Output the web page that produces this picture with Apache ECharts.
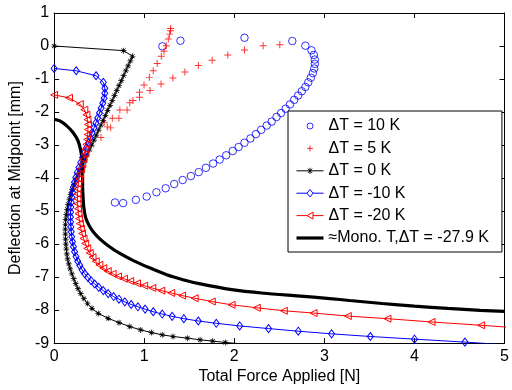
<!DOCTYPE html>
<html>
<head>
<meta charset="utf-8">
<script src="https://cdn.jsdelivr.net/npm/echarts@6/dist/echarts.min.js"></script>
<style>
  html, body { margin: 0; padding: 0; background: #fff; }
  #chart { width: 512px; height: 390px; }
</style>
</head>
<body>
<div id="chart"></div>
<script>
// Axis ranges and ticks
const xTicks = [0, 1, 2, 3, 4, 5];
const yTicks = [-9, -8, -7, -6, -5, -4, -3, -2, -1, 0, 1];
const xTitle = 'Total Force Applied [N]';
const yTitle = 'Deflection at Midpoint [mm]';

const seriesNames = ['ΔT = 10 K', 'ΔT = 5 K', 'ΔT = 0 K', 'ΔT = -10 K', 'ΔT = -20 K', '≈Mono. T,ΔT = -27.9 K'];

// [force N, deflection mm]
const dT10 = [
  [0.675, -4.74], [0.766, -4.76], [0.907, -4.66], [1.027, -4.56], [1.136, -4.43],
  [1.238, -4.31], [1.333, -4.18], [1.427, -4.06], [1.518, -3.94], [1.605, -3.82],
  [1.685, -3.69], [1.765, -3.56], [1.837, -3.44], [1.910, -3.31], [1.983, -3.18],
  [2.048, -3.06], [2.113, -2.93], [2.179, -2.80], [2.240, -2.67], [2.298, -2.54],
  [2.360, -2.41], [2.415, -2.29], [2.469, -2.15], [2.520, -2.03], [2.570, -1.90],
  [2.618, -1.77], [2.665, -1.63], [2.709, -1.50], [2.749, -1.37], [2.789, -1.24],
  [2.821, -1.10], [2.850, -0.96], [2.872, -0.82], [2.887, -0.68], [2.894, -0.54],
  [2.894, -0.41], [2.883, -0.27], [2.857, -0.13], [2.789, 0.01], [2.644, 0.15],
  [2.113, 0.25], [1.402, 0.16], [1.202, -0.01]
];

const dT5 = [
  [0.520, -2.77], [0.590, -2.45], [0.646, -2.19], [0.730, -1.94], [0.840, -1.72],
  [0.948, -1.40], [0.998, -1.18], [1.057, -0.95], [1.100, -0.75], [1.144, -0.53],
  [1.190, -0.31], [1.220, -0.16], [1.245, 0.01], [1.267, 0.21], [1.282, 0.36],
  [1.293, 0.46], [1.293, 0.53],
  [2.505, 0.04], [2.320, 0.01], [2.113, -0.12], [1.928, -0.27], [1.754, -0.43],
  [1.601, -0.59], [1.452, -0.79], [1.318, -0.97], [1.187, -1.15], [1.064, -1.35],
  [0.948, -1.55], [0.875, -1.65], [0.810, -1.94], [0.719, -2.19], [0.628, -2.48],
  [0.556, -2.31]
];

const dT0 = [
  [0, 0], [0.77, -0.14], [0.87, -0.31],
  [0.846, -0.45], [0.821, -0.60], [0.796, -0.75], [0.771, -0.90], [0.746, -1.05],
  [0.720, -1.20], [0.695, -1.35], [0.670, -1.50], [0.645, -1.65], [0.620, -1.80],
  [0.594, -1.95], [0.569, -2.10], [0.544, -2.25], [0.519, -2.40], [0.494, -2.55],
  [0.468, -2.70], [0.443, -2.85], [0.418, -3.00], [0.393, -3.15], [0.368, -3.30],
  [0.342, -3.45], [0.317, -3.60], [0.290, -3.75], [0.265, -3.90], [0.242, -4.05],
  [0.220, -4.20], [0.200, -4.35], [0.183, -4.50], [0.168, -4.65], [0.155, -4.80],
  [0.144, -4.95], [0.135, -5.10], [0.129, -5.25], [0.125, -5.40], [0.124, -5.55],
  [0.125, -5.70], [0.127, -5.85], [0.130, -6.00], [0.135, -6.15], [0.141, -6.30],
  [0.150, -6.45], [0.163, -6.60], [0.178, -6.75], [0.197, -6.90], [0.218, -7.05],
  [0.240, -7.20], [0.265, -7.35], [0.295, -7.50], [0.330, -7.65], [0.370, -7.80],
  [0.420, -7.95], [0.490, -8.10], [0.600, -8.25], [0.720, -8.38], [0.840, -8.50],
  [0.960, -8.60], [1.080, -8.68], [1.200, -8.75], [1.320, -8.80], [1.480, -8.85],
  [1.620, -8.90], [1.760, -8.94], [1.900, -8.98], [2.100, -9.03]
];

const dTm10 = [
  [0, -0.68], [0.245, -0.75], [0.465, -0.90], [0.546, -1.10], [0.563, -1.28],
  [0.563, -1.43], [0.555, -1.58], [0.540, -1.73], [0.522, -1.88], [0.503, -2.03],
  [0.483, -2.18], [0.463, -2.33], [0.443, -2.48], [0.423, -2.63], [0.403, -2.78],
  [0.382, -2.93], [0.360, -3.08], [0.338, -3.23], [0.316, -3.38], [0.295, -3.53],
  [0.275, -3.68], [0.257, -3.83], [0.240, -3.98], [0.226, -4.13], [0.214, -4.28],
  [0.204, -4.43], [0.196, -4.58], [0.190, -4.73], [0.185, -4.88], [0.183, -5.03],
  [0.182, -5.18], [0.183, -5.33], [0.186, -5.48], [0.190, -5.63], [0.196, -5.78],
  [0.204, -5.93], [0.214, -6.08], [0.227, -6.23], [0.243, -6.38], [0.262, -6.52],
  [0.285, -6.65], [0.310, -6.78], [0.340, -6.90], [0.375, -7.01], [0.410, -7.11],
  [0.450, -7.21], [0.495, -7.31], [0.545, -7.41], [0.600, -7.50], [0.660, -7.59],
  [0.720, -7.67], [0.785, -7.75], [0.855, -7.83], [0.930, -7.90], [1.010, -7.97],
  [1.100, -8.05], [1.200, -8.12], [1.310, -8.19], [1.440, -8.26], [1.600, -8.33],
  [1.800, -8.40], [2.060, -8.48], [2.380, -8.56], [2.710, -8.64], [3.080, -8.72],
  [3.510, -8.80], [4.000, -8.88], [4.560, -8.97], [4.900, -9.03]
];

const dTm20 = [
  [0, -1.48], [0.165, -1.57], [0.285, -1.76], [0.335, -1.93], [0.358, -2.08],
  [0.370, -2.23], [0.375, -2.38], [0.375, -2.53], [0.372, -2.68], [0.366, -2.83],
  [0.358, -2.98], [0.348, -3.13], [0.337, -3.28], [0.325, -3.43], [0.312, -3.58],
  [0.300, -3.73], [0.288, -3.88], [0.277, -4.03], [0.268, -4.18], [0.262, -4.33],
  [0.259, -4.48], [0.259, -4.63], [0.261, -4.78], [0.265, -4.93], [0.270, -5.08],
  [0.277, -5.23], [0.286, -5.38], [0.297, -5.53], [0.310, -5.68], [0.326, -5.83],
  [0.345, -5.98], [0.368, -6.13], [0.395, -6.27], [0.426, -6.40], [0.462, -6.52],
  [0.502, -6.63], [0.546, -6.73], [0.595, -6.82], [0.650, -6.90], [0.710, -6.98],
  [0.775, -7.05], [0.845, -7.12], [0.920, -7.19], [1.000, -7.26], [1.090, -7.33],
  [1.190, -7.41], [1.300, -7.48], [1.420, -7.56], [1.560, -7.64], [1.750, -7.74],
  [1.970, -7.84], [2.250, -7.93], [2.550, -8.02], [2.880, -8.09], [3.260, -8.18],
  [3.700, -8.26], [4.190, -8.36], [4.740, -8.46], [5.050, -8.52]
];

const mono = [
  [0, -2.22], [0.065, -2.27], [0.140, -2.42], [0.210, -2.62], [0.265, -2.87],
  [0.295, -3.16], [0.310, -3.46], [0.316, -3.86], [0.316, -4.25], [0.322, -4.60],
  [0.330, -4.90], [0.350, -5.20], [0.385, -5.42], [0.440, -5.65], [0.510, -5.85],
  [0.600, -6.05], [0.720, -6.27], [0.880, -6.50], [1.060, -6.72], [1.250, -6.93],
  [1.430, -7.08], [1.610, -7.20], [1.970, -7.38], [2.330, -7.49], [2.700, -7.57],
  [3.060, -7.65], [3.280, -7.71], [3.640, -7.80], [4.000, -7.88], [4.370, -7.95],
  [4.730, -8.01], [5.000, -8.04]
];

const FONT = '"Liberation Sans", Arial, Helvetica, sans-serif';
const FS = 16;
const BLUE = '#0000ff';
const RED = '#ff0000';
const BLACK = '#000000';

// Marker shapes (filled paths)
const PLUS = 'path://M-0.7,-5L0.7,-5L0.7,5L-0.7,5Z M-5,-0.7L5,-0.7L5,0.7L-5,0.7Z';
const STAR = 'path://M-0.6,-5L0.6,-5L0.6,5L-0.6,5Z M-5,-0.6L5,-0.6L5,0.6L-5,0.6Z ' +
             'M-3.1,-3.9L3.9,3.1L3.1,3.9L-3.9,-3.1Z M3.1,-3.9L3.9,-3.1L-3.1,3.9L-3.9,3.1Z';

// Legend icons: stroked outlines in a 27x9 box (corner points fix the box size)
const BOX = 'M0,0L0,0M27,9L27,9';
const ICON_CIRCLE = 'path://' + BOX + 'M16.5,4.5A3,3 0 1 1 10.5,4.5A3,3 0 1 1 16.5,4.5Z';
const ICON_PLUS = 'path://' + BOX + 'M13.5,1.5L13.5,7.5M10.5,4.5L16.5,4.5';
const ICON_STAR = 'path://' + BOX + 'M0,4.5L27,4.5M13.5,1.5L13.5,7.5M11.4,2.4L15.6,6.6M15.6,2.4L11.4,6.6';
const ICON_DIAMOND = 'path://' + BOX + 'M0,4.5L10.5,4.5M16.5,4.5L27,4.5M13.5,0.8L16.5,4.5L13.5,8.2L10.5,4.5Z';
const ICON_TRI = 'path://' + BOX + 'M0,4.5L10.5,4.5M16.5,4.5L27,4.5M10.5,4.5L16.5,1L16.5,8Z';
const ICON_LINE = 'path://' + BOX + 'M0,4.5L27,4.5';

const chart = echarts.init(document.getElementById('chart'), null, { renderer: 'canvas' });

const xFrame = (pos) => ({
  type: 'value', position: pos, min: xTicks[0], max: xTicks[xTicks.length - 1], interval: 1,
  axisLine: { show: true, onZero: false, lineStyle: { color: BLACK, width: 1 } },
  axisTick: { show: true, inside: true, length: 5, lineStyle: { color: BLACK } },
  splitLine: { show: false }
});
const yFrame = (pos) => ({
  type: 'value', position: pos, min: yTicks[0], max: yTicks[yTicks.length - 1], interval: 1,
  axisLine: { show: true, onZero: false, lineStyle: { color: BLACK, width: 1 } },
  axisTick: { show: true, inside: true, length: 5, lineStyle: { color: BLACK } },
  splitLine: { show: false }
});

const legendItem = (name, icon, color, width) => ({
  name: name, icon: icon,
  itemStyle: { color: 'none', borderColor: color, borderWidth: width || 1 }
});

const option = {
  backgroundColor: '#fff',
  animation: false,
  textStyle: { fontFamily: FONT },
  grid: { left: 49, right: 4, top: 13, bottom: 40, containLabel: false },
  xAxis: [
    Object.assign(xFrame('bottom'), {
      name: xTitle, nameLocation: 'middle', nameGap: 21,
      nameTextStyle: { fontFamily: FONT, fontSize: FS, color: BLACK },
      axisLabel: { show: true, margin: 5, fontFamily: FONT, fontSize: FS, color: BLACK }
    }),
    Object.assign(xFrame('top'), { axisLabel: { show: false } })
  ],
  yAxis: [
    Object.assign(yFrame('left'), {
      name: yTitle, nameLocation: 'middle', nameGap: 28,
      nameTextStyle: { fontFamily: FONT, fontSize: FS, color: BLACK },
      axisLabel: { show: true, margin: 5, fontFamily: FONT, fontSize: FS, color: BLACK }
    }),
    Object.assign(yFrame('right'), { axisLabel: { show: false } })
  ],
  legend: {
    orient: 'vertical', left: 288, top: 111,
    backgroundColor: '#fff', borderColor: BLACK, borderWidth: 1, borderRadius: 0,
    padding: [7, 13, 6, 6],
    itemWidth: 27, itemHeight: 9, itemGap: 6.4,
    symbolKeepAspect: true,
    textStyle: { fontFamily: FONT, fontSize: FS, color: BLACK, lineHeight: 16 },
    data: [
      legendItem(seriesNames[0], ICON_CIRCLE, BLUE),
      legendItem(seriesNames[1], ICON_PLUS, RED),
      legendItem(seriesNames[2], ICON_STAR, BLACK),
      legendItem(seriesNames[3], ICON_DIAMOND, BLUE),
      legendItem(seriesNames[4], ICON_TRI, RED),
      legendItem(seriesNames[5], ICON_LINE, BLACK, 3.2)
    ]
  },
  series: [
    {
      name: seriesNames[0], type: 'scatter', data: dT10,
      symbol: 'circle', symbolSize: 7.5,
      itemStyle: { color: 'rgba(0,0,0,0)', borderColor: BLUE, borderWidth: 1 }
    },
    {
      name: seriesNames[1], type: 'scatter', data: dT5,
      symbol: PLUS, symbolSize: 7,
      itemStyle: { color: RED }
    },
    {
      name: seriesNames[2], type: 'line', data: dT0,
      symbol: STAR, symbolSize: 6, showAllSymbol: true,
      lineStyle: { color: BLACK, width: 1 },
      itemStyle: { color: BLACK }
    },
    {
      name: seriesNames[3], type: 'line', data: dTm10,
      symbol: 'diamond', symbolSize: [6, 8], showAllSymbol: true,
      lineStyle: { color: BLUE, width: 1 },
      itemStyle: { color: 'rgba(0,0,0,0)', borderColor: BLUE, borderWidth: 1 }
    },
    {
      name: seriesNames[4], type: 'line', data: dTm20,
      symbol: 'triangle', symbolRotate: 90, symbolSize: [7, 7], showAllSymbol: true,
      lineStyle: { color: RED, width: 1 },
      itemStyle: { color: 'rgba(0,0,0,0)', borderColor: RED, borderWidth: 1 }
    },
    {
      name: seriesNames[5], type: 'line', data: mono,
      symbol: 'none', smooth: 0.2,
      lineStyle: { color: BLACK, width: 3.2 },
      itemStyle: { color: BLACK }
    }
  ]
};

chart.setOption(option);
</script>
</body>
</html>
